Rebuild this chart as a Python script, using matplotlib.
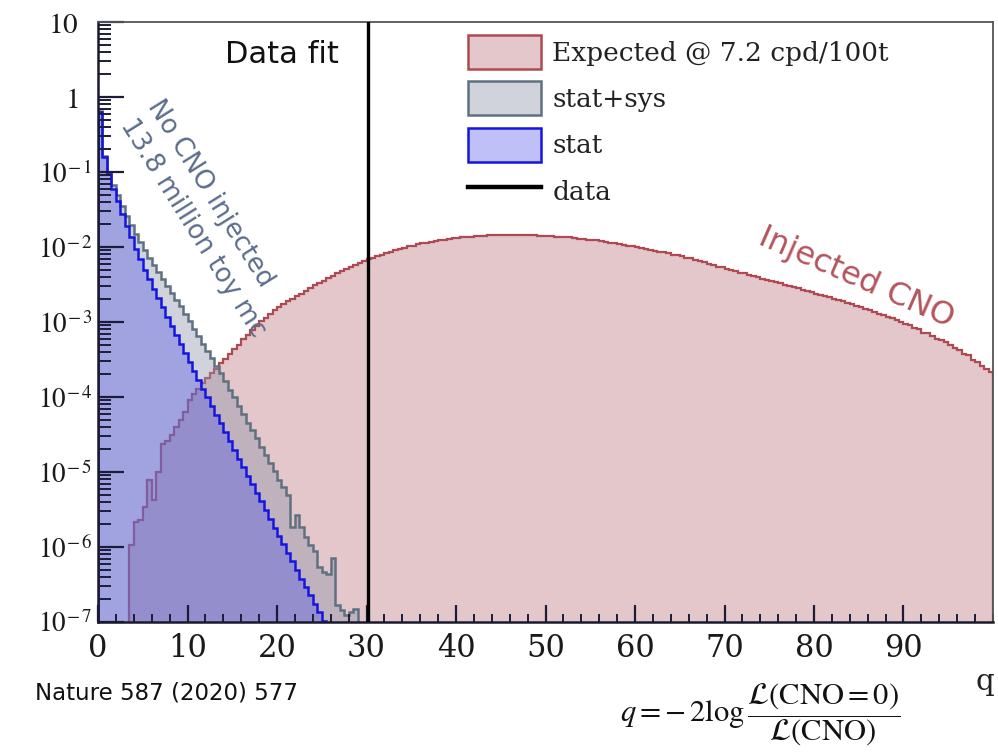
import numpy as np
import matplotlib
matplotlib.use("Agg")
import matplotlib.pyplot as plt
from matplotlib.colors import to_rgba
from matplotlib.patches import Patch
from matplotlib.lines import Line2D
from matplotlib.ticker import LogLocator, NullFormatter, FixedLocator, FixedFormatter

# ---------------- data (log10 of bin contents, bins of width 0.5 in q) ----------------
bin_width = 0.5
q_lo, q_hi = 0.0, 100.0

# "stat" toy-MC distribution (no CNO injected), bins from q=0
stat_log10 = [-0.20, -0.80, -1.03, -1.22, -1.39, -1.56, -1.72, -1.87, -2.02, -2.16,
              -2.30, -2.43, -2.56, -2.68, -2.80, -2.93, -3.05, -3.17, -3.29, -3.41,
              -3.53, -3.65, -3.77, -3.89, -4.00, -4.12, -4.24, -4.35, -4.47, -4.59,
              -4.70, -4.82, -4.93, -5.05, -5.16, -5.28, -5.39, -5.51, -5.62, -5.74,
              -5.85, -5.96, -6.08, -6.19, -6.30, -6.42, -6.53, -6.64, -6.76, -6.87,
              -6.98, -7.09]

# "stat+sys" toy-MC distribution, bins from q=0
statsys_log10 = [-0.18, -0.79, -1.00, -1.17, -1.31, -1.45, -1.58, -1.70, -1.82, -1.93,
                 -2.04, -2.14, -2.24, -2.33, -2.42, -2.52, -2.61, -2.70, -2.79, -2.89,
                 -2.99, -3.09, -3.19, -3.29, -3.38, -3.48, -3.58, -3.68, -3.79, -3.90,
                 -4.00, -4.12, -4.22, -4.34, -4.44, -4.55, -4.66, -4.77, -4.88, -4.99,
                 -5.10, -5.20, -5.31, -5.73, -5.57, -5.73, -5.86, -5.97, -6.05, -6.26,
                 -6.33, -6.36, -6.15, -6.77, -6.84, -6.90, -6.86, -6.82]

# "Expected @ 7.2 cpd/100t" (CNO injected), bins from q=0 (None = empty bin)
expected_log10 = [None, None, None, None, None, None, None,
                  -5.97, -5.66, -5.64, -5.46, -5.11, -5.37, -5.00, -4.62, -4.58, -4.51,
                  -4.40, -4.31, -4.20, -4.04, -3.96, -3.89, -3.81, -3.75, -3.68, -3.62,
                  -3.55, -3.49, -3.43, -3.36, -3.30, -3.23, -3.17, -3.10, -3.05, -2.99,
                  -2.94, -2.89, -2.84, -2.80, -2.76, -2.72, -2.69, -2.65, -2.62, -2.58,
                  -2.55, -2.51, -2.48, -2.45, -2.41, -2.38, -2.35, -2.32, -2.29, -2.26,
                  -2.24, -2.21, -2.19, -2.16, -2.14, -2.12, -2.10, -2.08, -2.06, -2.04,
                  -2.02, -2.01, -1.99, -1.98, -1.96, -1.95, -1.94, -1.93, -1.92, -1.91,
                  -1.90, -1.89, -1.88, -1.88, -1.87, -1.86, -1.86, -1.85, -1.85, -1.85,
                  -1.84, -1.84, -1.84, -1.84, -1.84, -1.84, -1.84, -1.84, -1.84, -1.84,
                  -1.84, -1.85, -1.85, -1.85, -1.85, -1.86, -1.86, -1.87, -1.87, -1.88,
                  -1.89, -1.89, -1.90, -1.90, -1.91, -1.92, -1.93, -1.94, -1.95, -1.96,
                  -1.97, -1.98, -1.99, -2.00, -2.01, -2.02, -2.04, -2.05, -2.06, -2.07,
                  -2.08, -2.10, -2.11, -2.12, -2.14, -2.15, -2.17, -2.19, -2.20, -2.22,
                  -2.24, -2.26, -2.27, -2.29, -2.31, -2.32, -2.34, -2.35, -2.37, -2.39,
                  -2.40, -2.42, -2.44, -2.45, -2.47, -2.48, -2.50, -2.52, -2.53, -2.55,
                  -2.57, -2.59, -2.60, -2.62, -2.64, -2.65, -2.67, -2.69, -2.71, -2.72,
                  -2.74, -2.76, -2.78, -2.80, -2.82, -2.84, -2.87, -2.89, -2.90, -2.93,
                  -2.95, -2.97, -3.00, -3.02, -3.04, -3.08, -3.09, -3.14, -3.15, -3.18,
                  -3.22, -3.24, -3.27, -3.30, -3.35, -3.37, -3.43, -3.44, -3.51, -3.53,
                  -3.58, -3.62, -3.66]

data_q = 30.2

y_tick_values = [1e-7, 1e-6, 1e-5, 1e-4, 1e-3, 1e-2, 1e-1, 1, 10]
y_tick_labels = [r"$10^{\!-7}$", r"$10^{\!-6}$", r"$10^{\!-5}$", r"$10^{\!-4}$",
                 r"$10^{\!-3}$", r"$10^{\!-2}$", r"$10^{\!-1}$", r"$1$", r"$10$"]
x_tick_values = [0, 10, 20, 30, 40, 50, 60, 70, 80, 90]
x_tick_labels = ["0", "10", "20", "30", "40", "50", "60", "70", "80", "90"]

legend_labels = ["Expected @ 7.2 cpd/100t", "stat+sys", "stat", "data"]

# ---------------- helpers ----------------
EMPTY = 1e-12
nbins = int(round((q_hi - q_lo) / bin_width))
edges = np.linspace(q_lo, q_hi, nbins + 1)


def to_counts(logs):
    v = np.full(nbins, EMPTY)
    for i, l in enumerate(logs):
        if l is not None:
            v[i] = 10.0 ** l
    return v


stat = to_counts(stat_log10)
statsys = to_counts(statsys_log10)
expected = to_counts(expected_log10)

plt.rcParams['font.family'] = ['DejaVu Serif']
plt.rcParams['mathtext.fontset'] = 'stix'

W, H = 998, 756
fig = plt.figure(figsize=(W / 100, H / 100), dpi=100)
fig.patch.set_facecolor('white')


def fx(px):
    return px / W


def fy(py):
    return 1 - py / H


ax = fig.add_axes([fx(98), fy(622), (993 - 98) / W, 600 / H])

red_face = to_rgba('#bb757d', 0.40)
red_edge = '#b04a52'
grey_face = to_rgba('#8a93a8', 0.40)
grey_edge = '#5f7180'
blue_face = to_rgba('#474bea', 0.35)
blue_edge = '#1515e0'

for vals, face, edge, lw in [(expected, red_face, red_edge, 1.6),
                             (statsys, grey_face, grey_edge, 1.8),
                             (stat, blue_face, blue_edge, 1.8)]:
    ax.stairs(vals, edges, fill=True, baseline=EMPTY, color=face, linewidth=0)
    ax.stairs(vals, edges, fill=False, baseline=EMPTY, color=edge, linewidth=lw)

ax.axvline(data_q, color='black', lw=2.4, zorder=5)

ax.set_yscale('log')
ax.set_xlim(q_lo, q_hi)
ax.set_ylim(1e-7, 10)

ax.yaxis.set_major_locator(FixedLocator(y_tick_values))
ax.yaxis.set_major_formatter(FixedFormatter(y_tick_labels))
ax.yaxis.set_minor_locator(LogLocator(base=10, subs=np.arange(2, 10), numticks=100))
ax.yaxis.set_minor_formatter(NullFormatter())
ax.xaxis.set_major_locator(FixedLocator(x_tick_values))
ax.xaxis.set_major_formatter(FixedFormatter(x_tick_labels))
ax.set_xticks(np.arange(0, 101, 2), minor=True)

tick_col = '#1c1c3a'
ax.tick_params(axis='y', which='major', direction='in', length=19, width=1.6,
               color=tick_col, labelsize=19.5, pad=4, labelcolor='#1a1a1a')
ax.tick_params(axis='y', which='minor', direction='in', length=9.5, width=1.4, color=tick_col)
ax.tick_params(axis='x', which='major', direction='in', length=12, width=1.6,
               color=tick_col, labelsize=22, pad=8, labelcolor='#1a1a1a')
ax.tick_params(axis='x', which='minor', direction='in', length=6, width=1.4, color=tick_col)
ax.tick_params(top=False, right=False)

# plain "1" and "10" labels sit further from the axis (no exponent)
fig.canvas.draw()
for tick in ax.yaxis.get_major_ticks()[7:9]:
    tick.set_pad(14)
    tick.label1.set_fontsize(21)

for s in ['left', 'bottom']:
    ax.spines[s].set_color('#1a1a2e')
    ax.spines[s].set_linewidth(1.8)
for s in ['top', 'right']:
    ax.spines[s].set_color('#555555')
    ax.spines[s].set_linewidth(1.3)

# legend
handles = [Patch(facecolor=red_face, edgecolor=red_edge, linewidth=1.8),
           Patch(facecolor=grey_face, edgecolor=grey_edge, linewidth=1.8),
           Patch(facecolor=blue_face, edgecolor=blue_edge, linewidth=1.8),
           Line2D([], [], color='black', lw=3.2)]
leg = fig.legend(handles, legend_labels, loc='upper left',
                 bbox_to_anchor=(fx(468), fy(35)), frameon=False,
                 prop={'family': 'DejaVu Serif', 'size': 19},
                 handlelength=2.75, handleheight=1.6, labelspacing=0.47,
                 handletextpad=0.45, borderpad=0, borderaxespad=0)
for t in leg.get_texts():
    t.set_color('#222222')

# annotations
fig.text(fx(225), fy(63), "Data fit", family='DejaVu Sans', fontsize=22,
         color='#111111', ha='left', va='baseline')
txt_col = '#5c6d8c'
fig.text(fx(147), fy(106), "No CNO injected", family='DejaVu Sans', fontsize=18.8,
         color=txt_col, rotation=-58, rotation_mode='anchor', ha='left', va='baseline')
fig.text(fx(120), fy(125), "13.8 million toy mc", family='DejaVu Sans', fontsize=18.8,
         color=txt_col, rotation=-58, rotation_mode='anchor', ha='left', va='baseline')
fig.text(fx(757), fy(244), "Injected CNO", family='DejaVu Sans', fontsize=23,
         color='#b5545c', rotation=-23.6, rotation_mode='anchor', ha='left', va='baseline')

fig.text(fx(985), fy(682), "q", family='DejaVu Serif', fontsize=21, color='#222222',
         ha='center', va='center')
fig.text(fx(35), fy(700), "Nature 587 (2020) 577", family='DejaVu Sans', fontsize=16.5,
         color='#111111', ha='left', va='baseline')
fig.text(fx(760), fy(715),
         r"$q = -\,2\log\dfrac{\mathcal{L}(\mathrm{CNO}=0)}{\mathcal{L}(\mathrm{CNO})}$",
         math_fontfamily='stix', fontsize=22, color='#111111', ha='center', va='center')

fig.savefig("out.png", dpi=100)
